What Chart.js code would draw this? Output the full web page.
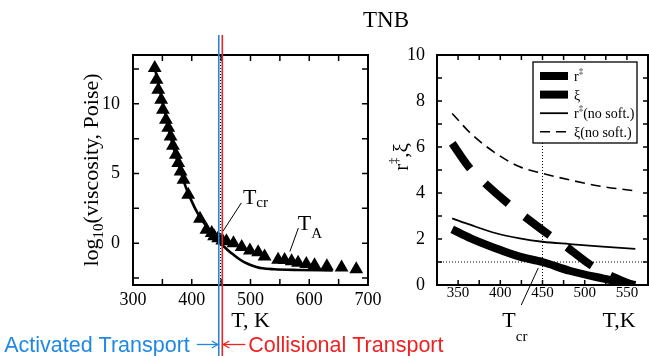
<!DOCTYPE html>
<html>
<head>
<meta charset="utf-8">
<script src="https://cdn.jsdelivr.net/npm/chart.js@4.4.1/dist/chart.umd.min.js"></script>
<style>
html,body{margin:0;padding:0;background:#ffffff;}
#wrap{position:relative;width:649px;height:356px;overflow:hidden;background:#ffffff;}
#left{position:absolute;left:0;top:0;width:470px;height:356px;}
#right{position:absolute;left:380px;top:0;width:269px;height:356px;}
</style>
</head>
<body>
<div id="wrap">
<canvas id="left" width="470" height="356"></canvas>
<canvas id="right" width="269" height="356"></canvas>
</div>
<script>
// ---------- Left panel: viscosity of TNB ----------
const LEFT_T = [337,340,343,348,351,356,360,364,368,373,377,381,386,394,414,425,434,438,445,452,459,471,485,499,513,524,547,558,570,581,595,609,630,655,680];
const LEFT_LOGV = [12.56,11.72,11.0,10.29,9.57,8.85,8.28,7.66,6.99,6.34,5.75,5.15,4.55,3.48,1.75,0.97,0.73,0.49,0.35,0.2,0.13,0.0,-0.28,-0.52,-0.65,-0.95,-1.18,-1.2,-1.3,-1.4,-1.5,-1.58,-1.66,-1.74,-1.87];
const FIT_T = [338,350,360,370,380,390,400,410,420,430,440,450,460,470,480,490,500,510,520,540,580,640];
const FIT_LOGV = [12.4,10.2,8.3,6.7,5.3,4.0,3.0,2.15,1.5,0.95,0.5,-0.05,-0.45,-0.8,-1.12,-1.38,-1.56,-1.7,-1.8,-1.87,-1.92,-1.95];
const LEFT_X_TICKS = [300,350,400,450,500,550,600,650,700];
const LEFT_X_LABELS = [300,400,500,600,700];
const LEFT_Y_TICKS = [-2.5,0,2.5,5,7.5,10,12.5];
const LEFT_Y_LABELS = [0,5,10];
const TCR_LEFT = 449;
const T_ACTIVATED = 446;
const T_COLLISIONAL = 452;

// ---------- Right panel: r‡ and ξ ----------
const R_T = [343,365,395,423,450,482,521,560];
const XI_NOSOFT = [7.46,6.59,5.72,5.14,4.85,4.57,4.28,4.09];
const R_NOSOFT = [2.9,2.61,2.25,2.03,1.88,1.78,1.67,1.57];
const R_SOFT = [2.42,2.03,1.59,1.23,1.0,0.62,0.29,0.0];
const XI_T = [343,364,382,409,429,458,478,507,529,556];
const XI_SOFT = [6.16,5.07,4.42,3.55,2.97,2.17,1.67,0.87,0.43,0.0];
const RIGHT_X_TICKS = [325,350,375,400,425,450,475,500,525,550,575];
const RIGHT_X_LABELS = [350,400,450,500,550];
const RIGHT_Y_TICKS = [0,1,2,3,4,5,6,7,8,9,10];
const RIGHT_Y_LABELS = [0,2,4,6,8,10];
const TCR_RIGHT = 450;
const R_UNIT = 1;

const SERIF = '"Liberation Serif", "Times New Roman", serif';
const SANS = '"Liberation Sans", Arial, sans-serif';
const BLUE = '#1f88e3';
const RED = '#ee2222';

function pts(xs, ys){ return xs.map((x,i)=>({x:x, y:ys[i]})); }
function richWidth(ctx, parts){ let w=0; parts.forEach(p=>{ ctx.font=p.size+'px '+SERIF; w+=ctx.measureText(p.t).width; }); return w; }
function drawRich(ctx, parts, x, y){ let cx=x; parts.forEach(p=>{ ctx.font=p.size+'px '+SERIF; ctx.fillText(p.t, cx, y+(p.dy||0)); cx+=ctx.measureText(p.t).width; }); return cx; }

function frameTicks(chart, xt, yt, len){
  const {ctx, chartArea:a, scales:{x,y}} = chart;
  ctx.save();
  ctx.strokeStyle='#000'; ctx.lineWidth=1.5; ctx.setLineDash([]);
  ctx.beginPath();
  xt.forEach(v=>{ const px=x.getPixelForValue(v); ctx.moveTo(px,a.bottom); ctx.lineTo(px,a.bottom-len); ctx.moveTo(px,a.top); ctx.lineTo(px,a.top+len); });
  yt.forEach(v=>{ const py=y.getPixelForValue(v); ctx.moveTo(a.left,py); ctx.lineTo(a.left+len,py); ctx.moveTo(a.right,py); ctx.lineTo(a.right-len,py); });
  ctx.stroke();
  ctx.lineWidth=2;
  ctx.strokeRect(a.left, a.top, a.right-a.left, a.bottom-a.top);
  ctx.restore();
}

function tickCfg(ticksArr, labelsArr, size, pad){
  return {
    afterBuildTicks: s=>{ s.ticks = ticksArr.map(v=>({value:v})); },
    grid:{display:false}, border:{display:false},
    ticks:{autoSkip:false, maxRotation:0, padding:pad, color:'#000', font:{family:SERIF, size:size},
      callback:v=> labelsArr.includes(v) ? String(v) : ''}
  };
}

function arrow(ctx, x0, x1, y){
  const dir = Math.sign(x1-x0);
  ctx.beginPath(); ctx.moveTo(x0,y); ctx.lineTo(x1,y); ctx.stroke();
  ctx.beginPath(); ctx.moveTo(x1-dir*6,y-3.5); ctx.lineTo(x1,y); ctx.lineTo(x1-dir*6,y+3.5); ctx.stroke();
}

const leftDecor = {
  id:'leftDecor',
  afterDatasetsDraw(chart){
    const {ctx, chartArea:a, scales:{x,y}} = chart;
    frameTicks(chart, LEFT_X_TICKS, LEFT_Y_TICKS, 6);
    ctx.save();
    ctx.fillStyle='#000'; ctx.strokeStyle='#000'; ctx.textBaseline='alphabetic'; ctx.textAlign='left';
    // title
    ctx.font='23px '+SERIF; ctx.textAlign='center';
    ctx.fillText('TNB', 386, 27);
    ctx.textAlign='left';
    // y title
    const yParts=[{t:'log',size:22},{t:'10',size:15,dy:5},{t:'(viscosity, Poise)',size:22}];
    const yw=richWidth(ctx,yParts);
    ctx.save(); ctx.translate(91,(a.top+a.bottom)/2); ctx.rotate(-Math.PI/2);
    drawRich(ctx,yParts,-yw/2,7); ctx.restore();
    // x title
    ctx.font='22px '+SERIF; ctx.textAlign='center';
    ctx.fillText('T, K', (a.left+a.right)/2, 327);
    ctx.textAlign='left';
    // T_cr annotation
    ctx.lineWidth=1;
    let px=x.getPixelForValue(453), py=y.getPixelForValue(0.85);
    ctx.beginPath(); ctx.moveTo(px,py); ctx.lineTo(px+18.5,py-28.5); ctx.stroke();
    drawRich(ctx,[{t:'T',size:22},{t:'cr',size:15,dy:3}], px+20, py-27);
    // T_A annotation
    px=x.getPixelForValue(567); py=y.getPixelForValue(-0.6);
    ctx.beginPath(); ctx.moveTo(px,py); ctx.lineTo(px+8.5,py-23.5); ctx.stroke();
    drawRich(ctx,[{t:'T',size:22},{t:'A',size:15,dy:8}], px+8, py-22);
    ctx.restore();
  },
  afterDraw(chart){
    const {ctx, scales:{x}} = chart;
    const bx=x.getPixelForValue(T_ACTIVATED), rx=x.getPixelForValue(T_COLLISIONAL);
    ctx.save();
    ctx.lineWidth=1.6;
    ctx.strokeStyle=BLUE; ctx.beginPath(); ctx.moveTo(bx,35); ctx.lineTo(bx,356); ctx.stroke();
    ctx.strokeStyle=RED; ctx.beginPath(); ctx.moveTo(rx,35); ctx.lineTo(rx,356); ctx.stroke();
    ctx.font='21.5px '+SANS; ctx.textBaseline='alphabetic';
    ctx.fillStyle=BLUE; ctx.strokeStyle=BLUE; ctx.lineWidth=1.3; ctx.textAlign='right';
    ctx.fillText('Activated Transport', bx-29, 352);
    arrow(ctx, bx-22, bx-1, 344.5);
    ctx.fillStyle=RED; ctx.strokeStyle=RED; ctx.textAlign='left';
    ctx.fillText('Collisional Transport', rx+26, 352);
    arrow(ctx, rx+23, rx+1, 344.5);
    ctx.restore();
  }
};

new Chart(document.getElementById('left'), {
  type:'scatter',
  data:{datasets:[
    {label:'viscosity', data:pts(LEFT_T,LEFT_LOGV), pointStyle:'triangle', pointRadius:8, backgroundColor:'#000', borderColor:'#000', borderWidth:0, showLine:false, order:1},
    {label:'fit', data:pts(FIT_T,FIT_LOGV), showLine:true, pointRadius:0, borderColor:'#000', borderWidth:2.6, cubicInterpolationMode:'monotone', fill:false, order:2},
    {label:'Tcr', data:[{x:TCR_LEFT,y:-3},{x:TCR_LEFT,y:13.5}], showLine:true, pointRadius:0, borderColor:'#000', borderWidth:1, borderDash:[1,2], fill:false, order:3}
  ]},
  options:{
    responsive:false, animation:false, devicePixelRatio:1, events:[],
    layout:{padding:{left:0,right:102,top:55,bottom:0}},
    plugins:{legend:{display:false}, tooltip:{enabled:false}},
    scales:{
      x:Object.assign({type:'linear', min:300, max:700, afterFit:s=>{s.height=71;}}, tickCfg(LEFT_X_TICKS, LEFT_X_LABELS, 18, -4)),
      y:Object.assign({type:'linear', min:-3, max:13.5, afterFit:s=>{s.width=133;}}, tickCfg(LEFT_Y_TICKS, LEFT_Y_LABELS, 18, 5))
    }
  },
  plugins:[leftDecor]
});

const LEGEND_ROWS = [
  {ds:5, parts:[{t:'r',size:14},{t:'\u2021',size:9,dy:-7}]},
  {ds:4, parts:[{t:'\u03BE',size:14}]},
  {ds:3, parts:[{t:'r',size:14},{t:'\u2021',size:9,dy:-7},{t:'(no soft.)',size:14}]},
  {ds:2, parts:[{t:'\u03BE(no soft.)',size:14}]}
];

const rightDecor = {
  id:'rightDecor',
  afterDatasetsDraw(chart){
    const {ctx, chartArea:a, scales:{x,y}} = chart;
    frameTicks(chart, RIGHT_X_TICKS, RIGHT_Y_TICKS, 5);
    ctx.save();
    ctx.fillStyle='#000'; ctx.strokeStyle='#000'; ctx.textAlign='left'; ctx.textBaseline='alphabetic';
    // legend
    const lx=a.left+96, ly=a.top+7, lw=104, lh=81;
    ctx.fillStyle='#fff'; ctx.fillRect(lx,ly,lw,lh);
    ctx.lineWidth=1.3; ctx.strokeRect(lx,ly,lw,lh);
    ctx.fillStyle='#000';
    LEGEND_ROWS.forEach((row,i)=>{
      const ds=chart.data.datasets[row.ds];
      const yy=ly+14+i*18.6;
      ctx.save(); ctx.lineCap='butt'; ctx.setLineDash(ds.borderDash||[]); ctx.lineWidth=ds.borderWidth;
      ctx.beginPath(); ctx.moveTo(lx+7,yy); ctx.lineTo(lx+35,yy); ctx.stroke(); ctx.restore();
      drawRich(ctx,row.parts,lx+41,yy+5);
    });
    // y title
    const yParts=[{t:'r',size:21},{t:'\u2021',size:12,dy:-10},{t:',\u03BE',size:21}];
    const yw=richWidth(ctx,yParts);
    ctx.save(); ctx.translate(21,157); ctx.rotate(-Math.PI/2);
    drawRich(ctx,yParts,-yw/2,7); ctx.restore();
    // x title
    ctx.font='22px '+SERIF; ctx.textAlign='center';
    ctx.fillText('T,K', 239, 327);
    ctx.textAlign='left';
    // Tcr annotation
    ctx.lineWidth=1;
    const px=x.getPixelForValue(445), py=y.getPixelForValue(0.74);
    ctx.beginPath(); ctx.moveTo(px,py); ctx.lineTo(px-17,py+37); ctx.stroke();
    drawRich(ctx,[{t:'T',size:22},{t:'cr',size:15,dy:14}], px-36, 327);
    ctx.restore();
  }
};

new Chart(document.getElementById('right'), {
  type:'scatter',
  data:{datasets:[
    {label:'T=Tcr', data:[{x:TCR_RIGHT,y:0},{x:TCR_RIGHT,y:10}], showLine:true, pointRadius:0, borderColor:'#000', borderWidth:1, borderDash:[1,2], order:10},
    {label:'r=1', data:[{x:325,y:R_UNIT},{x:575,y:R_UNIT}], showLine:true, pointRadius:0, borderColor:'#000', borderWidth:1, borderDash:[1,2], order:9},
    {label:'ξ(no soft.)', data:pts(R_T,XI_NOSOFT), showLine:true, pointRadius:0, borderColor:'#000', borderWidth:1.6, borderDash:[10,6], cubicInterpolationMode:'monotone', order:4},
    {label:'r‡(no soft.)', data:pts(R_T,R_NOSOFT), showLine:true, pointRadius:0, borderColor:'#000', borderWidth:1.8, cubicInterpolationMode:'monotone', order:3},
    {label:'ξ', data:pts(XI_T,XI_SOFT), showLine:true, pointRadius:0, borderColor:'#000', borderWidth:8, borderDash:[31,21], borderCapStyle:'butt', cubicInterpolationMode:'monotone', order:2},
    {label:'r‡', data:pts(R_T,R_SOFT), showLine:true, pointRadius:0, borderColor:'#000', borderWidth:8, borderCapStyle:'butt', cubicInterpolationMode:'monotone', order:1}
  ]},
  options:{
    responsive:false, animation:false, devicePixelRatio:1, events:[],
    layout:{padding:{left:0,right:1,top:55,bottom:0}},
    plugins:{legend:{display:false}, tooltip:{enabled:false}},
    scales:{
      x:Object.assign({type:'linear', min:325, max:575, afterFit:s=>{s.height=71;}}, tickCfg(RIGHT_X_TICKS, RIGHT_X_LABELS, 15, -9)),
      y:Object.assign({type:'linear', min:0, max:10, afterFit:s=>{s.width=57;}}, tickCfg(RIGHT_Y_TICKS, RIGHT_Y_LABELS, 18, 4))
    }
  },
  plugins:[rightDecor]
});
</script>
</body>
</html>
